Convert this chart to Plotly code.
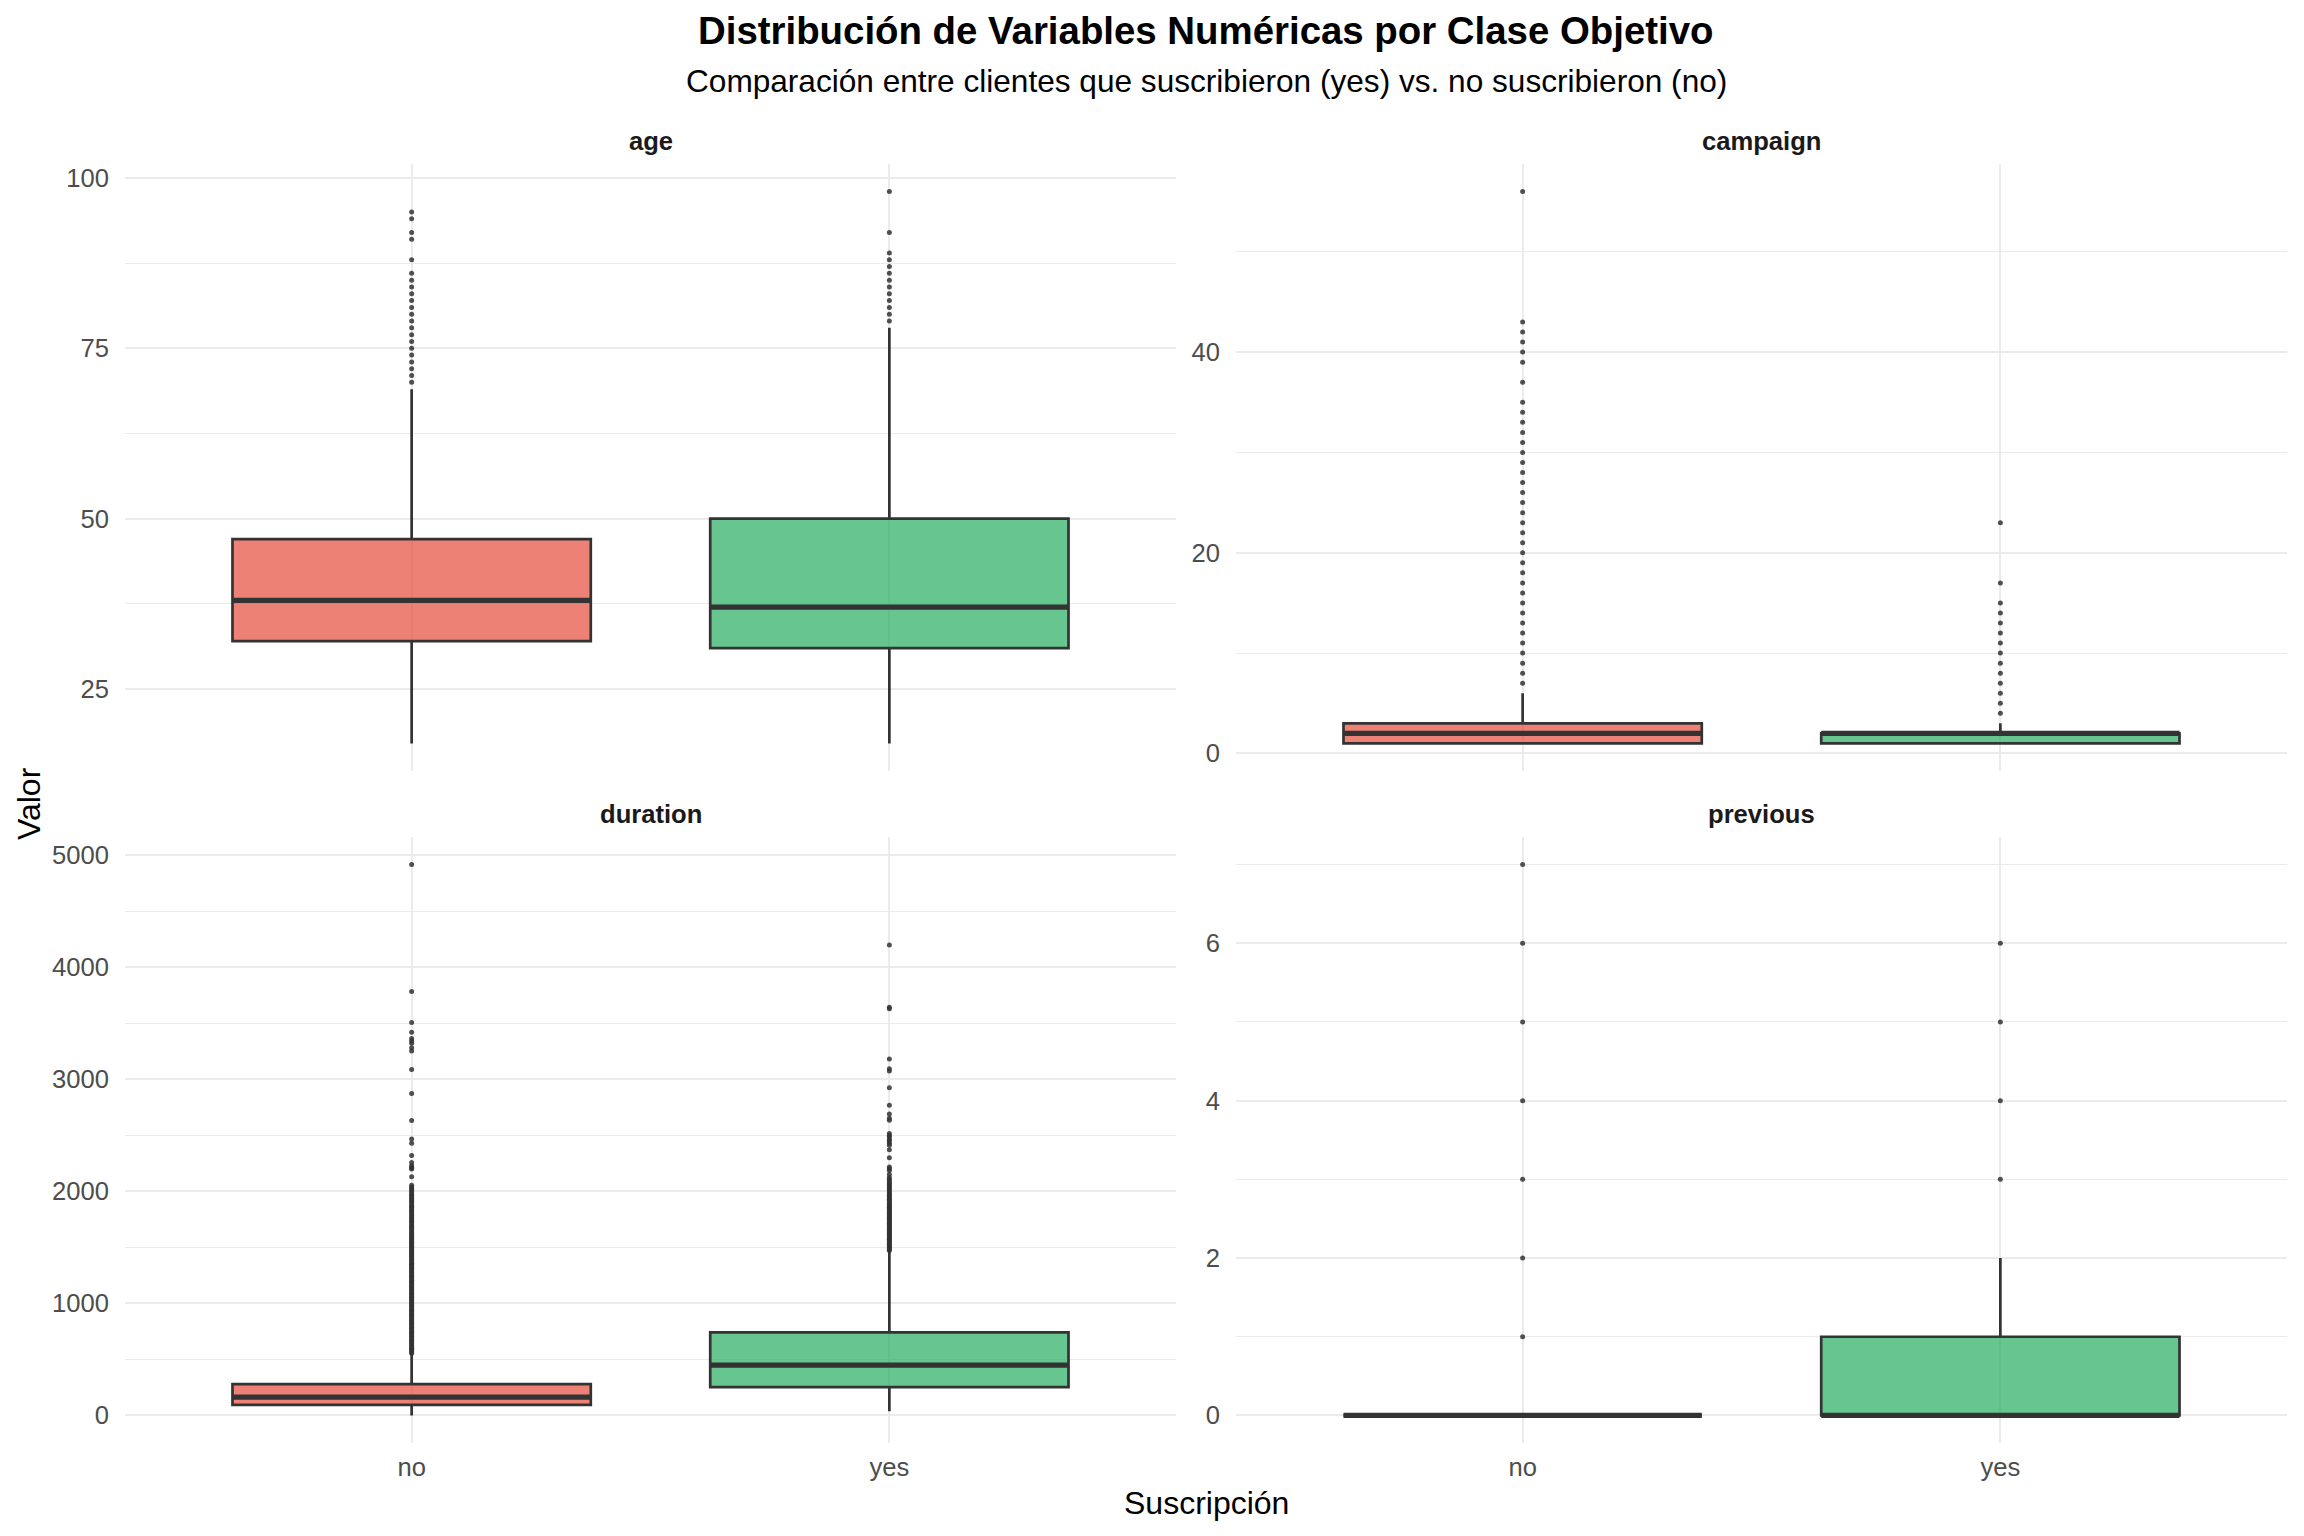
import plotly.graph_objects as go

# ---------------- data ----------------
categories = ["no", "yes"]
panel_names = ["age", "campaign", "duration", "previous"]

# age
age_q1 = [32, 31]
age_med = [38, 37]
age_q3 = [47, 50]
age_lo = [17, 17]
age_hi = [69, 78]
age_out_no = [70, 71, 72, 73, 74, 75, 76, 77, 78, 79, 80, 81, 82, 83, 84, 85, 86,
              88, 91, 92, 94, 95]
age_out_yes = [79, 80, 81, 82, 83, 84, 85, 86, 87, 88, 89, 92, 98]

# campaign
camp_q1 = [1, 1]
camp_med = [2, 2]
camp_q3 = [3, 2]
camp_lo = [1, 1]
camp_hi = [6, 3]
camp_out_no = [7, 8, 9, 10, 11, 12, 13, 14, 15, 16, 17, 18, 19, 20, 21, 22, 23, 24,
               25, 26, 27, 28, 29, 30, 31, 32, 33, 34, 35, 37, 39, 40, 41, 42, 43, 56]
camp_out_yes = [4, 5, 6, 7, 8, 9, 10, 11, 12, 13, 14, 15, 17, 23]

# duration
dur_q1 = [95, 253]
dur_med = [164, 449]
dur_q3 = [279, 741]
dur_lo = [0, 37]
dur_hi = [555, 1471]
dur_out_no = [556, 566, 579, 590, 601, 613, 624, 637, 648, 659, 671, 683, 694, 706,
              718, 729, 741, 752, 764, 776, 787, 799, 811, 822, 834, 846, 857, 869,
              881, 892, 904, 916, 927, 939, 951, 962, 974, 986, 997, 1009, 1021, 1032,
              1044, 1056, 1067, 1079, 1091, 1102, 1114, 1126, 1137, 1149, 1161, 1172,
              1184, 1196, 1207, 1219, 1231, 1242, 1254, 1266, 1277, 1289, 1301, 1312,
              1324, 1336, 1347, 1359, 1371, 1382, 1394, 1406, 1417, 1429, 1441, 1452,
              1464, 1476, 1487, 1499, 1511, 1522, 1534, 1546, 1557, 1569, 1581, 1592,
              1604, 1616, 1628, 1641, 1655, 1668, 1679, 1692, 1705, 1720, 1734, 1745,
              1760, 1772, 1788, 1802, 1817, 1830, 1843, 1857, 1868, 1882, 1898, 1913,
              1925, 1940, 1952, 1966, 1980, 1994, 2010, 2025, 2040, 2056, 2130, 2200,
              2208, 2213, 2229, 2259, 2321, 2431, 2467, 2634, 2875, 3089, 3253, 3283,
              3322, 3342, 3366, 3422, 3509, 3785, 4918]
dur_out_yes = [1473, 1484, 1495, 1506, 1517, 1528, 1539, 1550, 1561, 1572, 1583,
               1594, 1605, 1616, 1627, 1638, 1649, 1660, 1671, 1682, 1693, 1704, 1715,
               1726, 1737, 1748, 1759, 1770, 1781, 1792, 1803, 1814, 1825, 1836, 1847,
               1858, 1869, 1880, 1891, 1906, 1918, 1931, 1942, 1956, 1968, 1980, 1994,
               2008, 2022, 2035, 2049, 2063, 2078, 2092, 2108, 2125, 2150, 2187, 2203,
               2219, 2301, 2372, 2413, 2429, 2453, 2462, 2486, 2500, 2516, 2635, 2653,
               2692, 2769, 2926, 3076, 3094, 3183, 3631, 3643, 4199]

# previous
prev_q1 = [0, 0]
prev_med = [0, 0]
prev_q3 = [0, 1]
prev_lo = [0, 0]
prev_hi = [0, 2]
prev_out_no = [1, 2, 3, 4, 5, 6, 7]
prev_out_yes = [3, 4, 5, 6]

# tick steps of each facet's y axis
y_dticks = [25, 20, 1000, 2]

# ---------------- styling ----------------
WIN_W, WIN_H = 2304, 1536
OFF = 8                      # default page margin of the html body
FW, FH = WIN_W - 2 * OFF, WIN_H - 2 * OFF
FONT = "Liberation Sans, Arial, sans-serif"
fills = ["rgba(231,76,60,0.7)", "rgba(39,174,96,0.7)"]
EDGE = "#333333"
GRID = "#EBEBEB"
BOX_W = 0.75
TICK_SIZE = 25.6
STRIP_SIZE = 25.6
AXT_SIZE = 32
TITLE_SIZE = 38.4
SUB_SIZE = 31.6


def fx(p):
    return (p - OFF) / FW


def fy(p):
    return 1 - (p - OFF) / FH


# panel rectangles in window pixels
col_px = [(125, 1176), (1236, 2287)]
row_px = [(164, 771), (837, 1443)]

panels = [
    (age_q1, age_med, age_q3, age_lo, age_hi, [age_out_no, age_out_yes]),
    (camp_q1, camp_med, camp_q3, camp_lo, camp_hi, [camp_out_no, camp_out_yes]),
    (dur_q1, dur_med, dur_q3, dur_lo, dur_hi, [dur_out_no, dur_out_yes]),
    (prev_q1, prev_med, prev_q3, prev_lo, prev_hi, [prev_out_no, prev_out_yes]),
]

fig = go.Figure()
layout_axes = {}
annotations = []

for i, (q1, med, q3, lo, hi, outs) in enumerate(panels):
    r, c = divmod(i, 2)
    s = "" if i == 0 else str(i + 1)
    xa, ya = "x" + s, "y" + s
    for j, cat in enumerate(categories):
        fig.add_trace(go.Box(
            x=[j], q1=[q1[j]], median=[med[j]], q3=[q3[j]],
            lowerfence=[lo[j]], upperfence=[hi[j]],
            width=BOX_W, fillcolor=fills[j],
            line=dict(color=EDGE, width=2.7), whiskerwidth=0,
            boxpoints=False, showlegend=False, hoverinfo="skip",
            xaxis=xa, yaxis=ya))
        fig.add_trace(go.Scatter(
            x=[j - BOX_W / 2, j + BOX_W / 2], y=[med[j], med[j]], mode="lines",
            line=dict(color=EDGE, width=5.2), showlegend=False, hoverinfo="skip",
            xaxis=xa, yaxis=ya))
        fig.add_trace(go.Scatter(
            x=[j] * len(outs[j]), y=outs[j], mode="markers",
            marker=dict(color="rgba(51,51,51,0.85)", size=5, line=dict(width=0)),
            showlegend=False, hoverinfo="skip", xaxis=xa, yaxis=ya))

    allv = lo + hi + outs[0] + outs[1]
    vmin, vmax = min(allv), max(allv)
    pad = 0.05 * (vmax - vmin)
    x0, x1 = col_px[c]
    yt, yb = row_px[r]
    dt = y_dticks[i]
    layout_axes["xaxis" + s] = dict(
        domain=[fx(x0), fx(x1)], anchor=ya, range=[-0.6, len(categories) - 0.4],
        tickmode="array", tickvals=list(range(len(categories))), ticktext=categories,
        showticklabels=(r == 1), showgrid=True, gridcolor=GRID, gridwidth=2,
        zeroline=False, showline=False, ticks="", ticklabelstandoff=6,
        tickfont=dict(family=FONT, size=TICK_SIZE, color="#4D4D4D"))
    layout_axes["yaxis" + s] = dict(
        domain=[fy(yb), fy(yt)], anchor=xa, range=[vmin - pad, vmax + pad],
        tick0=0, dtick=dt, showgrid=True, gridcolor=GRID, gridwidth=2,
        minor=dict(tick0=0, dtick=dt / 2, showgrid=True, gridcolor=GRID, gridwidth=1),
        zeroline=False, showline=False, ticks="", ticklabelstandoff=15,
        tickfont=dict(family=FONT, size=TICK_SIZE, color="#4D4D4D"))
    annotations.append(dict(
        text="<b>%s</b>" % panel_names[i], x=fx((x0 + x1) / 2), y=fy(yt - 23),
        xref="paper", yref="paper", xanchor="center", yanchor="middle",
        showarrow=False, font=dict(family=FONT, size=STRIP_SIZE, color="#1A1A1A")))

annotations += [
    dict(text="<b>Distribución de Variables Numéricas por Clase Objetivo</b>",
         x=fx(1206), y=fy(31), xref="paper", yref="paper",
         xanchor="center", yanchor="middle", showarrow=False,
         font=dict(family=FONT, size=TITLE_SIZE, color="#000000")),
    dict(text="Comparación entre clientes que suscribieron (yes) vs. no suscribieron (no)",
         x=fx(1206), y=fy(81), xref="paper", yref="paper",
         xanchor="center", yanchor="middle", showarrow=False,
         font=dict(family=FONT, size=SUB_SIZE, color="#000000")),
    dict(text="Suscripción", x=fx(1206), y=fy(1503), xref="paper", yref="paper",
         xanchor="center", yanchor="middle", showarrow=False,
         font=dict(family=FONT, size=AXT_SIZE, color="#000000")),
    dict(text="Valor", x=fx(29), y=fy(804), xref="paper", yref="paper",
         xanchor="center", yanchor="middle", showarrow=False, textangle=-90,
         font=dict(family=FONT, size=AXT_SIZE, color="#000000")),
]

fig.update_layout(
    width=FW, height=FH, margin=dict(l=0, r=0, t=0, b=0),
    paper_bgcolor="white", plot_bgcolor="white",
    annotations=annotations, showlegend=False,
    font=dict(family=FONT), **layout_axes)

fig.write_html("out.html")
